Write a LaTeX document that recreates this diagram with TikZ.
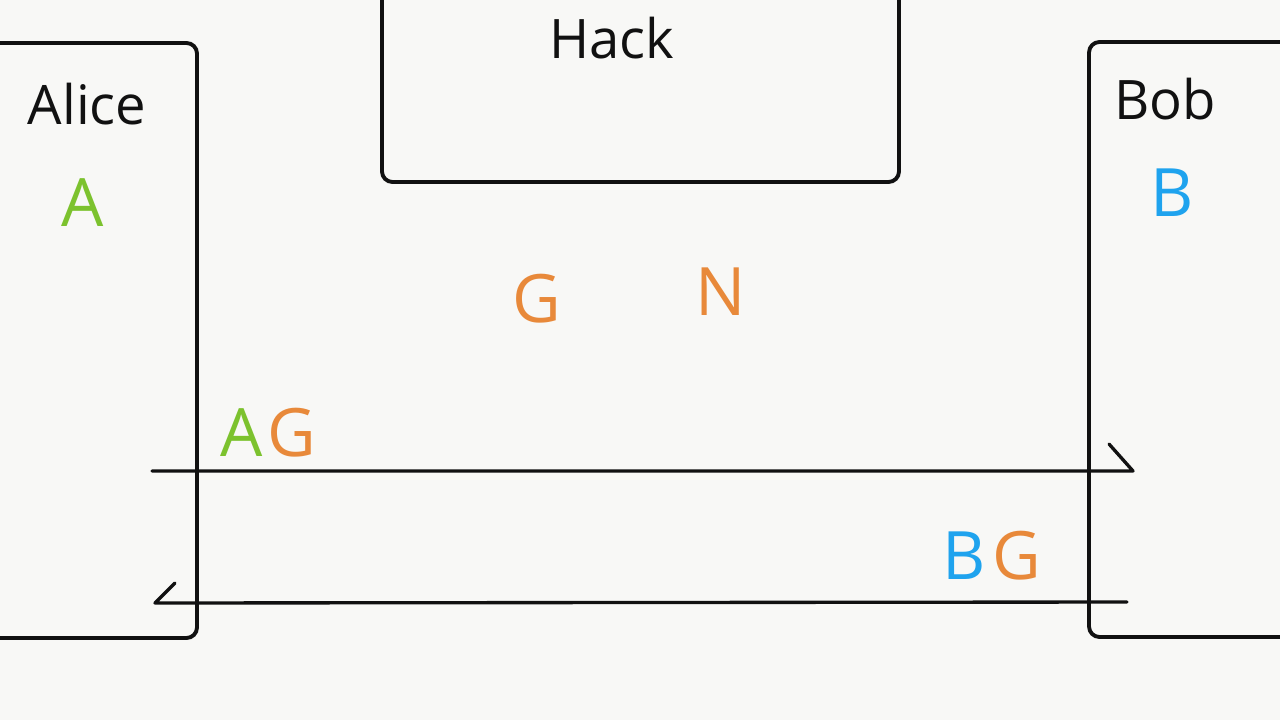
\documentclass[tikz,border=0pt]{standalone}
\usepackage{fontspec}
\setmainfont{Open Sans}
\definecolor{paper}{HTML}{F8F8F6}
\definecolor{ink}{HTML}{111111}
\definecolor{kgreen}{HTML}{7CC22E}
\definecolor{korange}{HTML}{E8893A}
\definecolor{kblue}{HTML}{1FA3EE}
\tikzset{
  boxline/.style={draw=ink, line width=2.2pt, rounded corners=6pt},
  msgline/.style={draw=ink, line width=1.9pt, line cap=round, line join=round},
  title/.style={inner sep=0pt, text=ink, font=\fontsize{31}{36}\selectfont},
  letter/.style={inner sep=0pt, font=\fontsize{38}{44}\selectfont},
}
\begin{document}
\begin{tikzpicture}[x=0.02cm, y=-0.02cm]
  \fill[paper] (0,0) rectangle (1280,720);
  \useasboundingbox (0,0) rectangle (1280,720);
  \begin{scope}
    \clip (0,0) rectangle (1280,720);
    % boxes (partly off the page)
    \draw[boxline] (-20,43) -- (197,43) -- (197,638) -- (-20,638);
    \draw[boxline] (1300,42) -- (1089,42) -- (1089,637) -- (1300,637);
    \draw[boxline] (382,-20) -- (382,182) -- (899,182) -- (899,-20);
  \end{scope}

  % titles
  \node[title] (hack) at (612,38) {Hack};
  \node[title] (alice) at (87,104) {Alice};
  \node[title] (bob) at (1165,99) {Bob};

  % keys
  \node[letter, text=kgreen] (a) at (83,203) {A};
  \node[letter, text=kblue] (b) at (1172,193) {B};
  \node[letter, text=korange] (g) at (537,299) {G};
  \node[letter, text=korange] (n) at (721,292) {N};

  \node[letter, anchor=base west] (ag) at (220,456) {\textcolor{kgreen}{A}\kern3pt\textcolor{korange}{G}};
  \node[letter, anchor=base west] (bg) at (942,579) {\textcolor{kblue}{B}\kern4pt\textcolor{korange}{G}};

  % messages with half arrowheads
  \coordinate (t1) at (152,471);
  \coordinate (t2) at (1133,471);
  \coordinate (t3) at (1109,444);
  \draw[msgline] (t1) -- (t2) -- (t3);

  \coordinate (b1) at (1127,602);
  \coordinate (b2) at (155,603);
  \coordinate (b3) at (175,583);
  \draw[msgline] (b1) -- (b2) -- (b3);
\end{tikzpicture}
\end{document}
